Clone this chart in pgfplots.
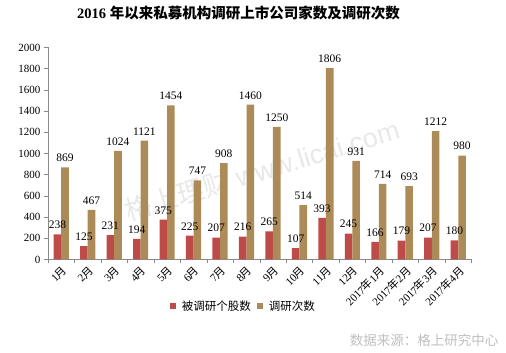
\documentclass[border=0pt]{standalone}
\usepackage{pgfplots}
\pgfplotsset{compat=1.18}
\usepackage{fontspec}
\setmainfont{Liberation Serif}
\newfontfamily\cjk{Noto Sans CJK SC}
\newfontfamily\wmfont{Liberation Sans}
\definecolor{redbar}{HTML}{BE4B48}
\definecolor{brownbar}{HTML}{AD8B58}
\definecolor{axgray}{HTML}{898989}
\newcommand\yue{{\cjk 月}}
\newcommand\nian{{\cjk 年}}
\begin{document}
\begin{tikzpicture}[x=1pt,y=1pt]
\useasboundingbox (0,0) rectangle (506,353);
\node[rotate=17, font=\wmfont\fontsize{27}{29}\selectfont, text=black!9] at (262,183) {{\cjk 格上理财}\ www.licai.com};
\begin{axis}[
  at={(48pt,93.5pt)}, anchor=south west,
  scale only axis, width=423.5pt, height=212pt,
  ymin=0, ymax=2000, ytick={0,200,...,2000},
  xmin=-0.5, xmax=15.5,
  xtick={0,...,15},
  xticklabels={1\yue,2\yue,3\yue,4\yue,5\yue,6\yue,7\yue,8\yue,9\yue,10\yue,11\yue,12\yue,2017\nian 1\yue,2017\nian 2\yue,2017\nian 3\yue,2017\nian 4\yue},
  minor xtick={-0.5,0.5,...,15.5},
  major x tick style={draw=none},
  minor tick length=4pt,
  major tick length=4pt,
  tick align=outside,
  axis x line*=bottom, axis y line*=left,
  axis line style={axgray},
  every tick/.style={axgray},
  ytick style={axgray},
  xticklabel style={rotate=45, anchor=north east, font=\fontsize{11}{13}\selectfont, inner sep=1pt},
  yticklabel style={font=\fontsize{11}{13}\selectfont},
  /pgf/number format/assume math mode=true,
  /pgf/number format/1000 sep={},
  scaled y ticks=false,
  ybar=0pt, bar width=7.6pt,
  nodes near coords,
  every node near coord/.append style={font=\fontsize{11.5}{13}\selectfont, black, yshift=2pt},
  legend columns=2,
  legend style={at={(0.4616,-0.219)}, anchor=center, draw=none, fill=none,
    font=\cjk\fontsize{11.5}{13}\selectfont, column sep=4pt},
  legend image code/.code={\fill[#1] (0pt,-3pt) rectangle (6pt,3pt);},
  clip=false,
]
\addplot[fill=redbar, draw=none] coordinates {(0,238) (1,125) (2,231) (3,194) (4,375) (5,225) (6,207) (7,216) (8,265) (9,107) (10,393) (11,245) (12,166) (13,179) (14,207) (15,180)};
\addplot[fill=brownbar, draw=none] coordinates {(0,869) (1,467) (2,1024) (3,1121) (4,1454) (5,747) (6,908) (7,1460) (8,1250) (9,514) (10,1806) (11,931) (12,714) (13,693) (14,1212) (15,980)};
\legend{被调研个股数,调研次数}
\end{axis}
\node[font=\bfseries\fontsize{14.5}{16}\selectfont] at (238.5,340) {2016 {\cjk\bfseries 年以来私募机构调研上市公司家数及调研次数}};
\node[anchor=east, font=\cjk\fontsize{13.5}{15}\selectfont, text=black!25] at (502,13) {数据来源：格上研究中心};
\end{tikzpicture}
\end{document}
